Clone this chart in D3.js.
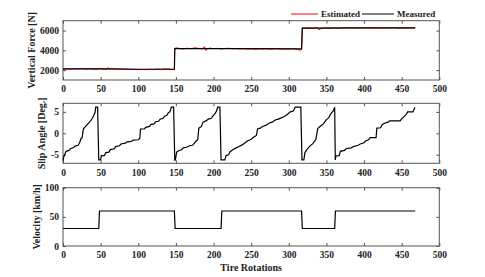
<!DOCTYPE html>
<html>
<head>
<meta charset="utf-8">
<script src="https://cdn.jsdelivr.net/npm/d3@7"></script>
<style>
body { margin: 0; background: #fff; }
svg text { font-family: "Liberation Serif", "Times New Roman", serif; font-weight: bold; }
.tick text { font-size: 9.5px; fill: #222; }
.domain { display: none; }
.tick line { stroke: #555; }
.frame { fill: none; stroke: #555; stroke-width: 1; }
.ylab, .xlab { font-size: 10px; fill: #222; }
.leg { font-size: 9px; fill: #222; }
</style>
</head>
<body>
<div id="content"></div>
<script>
// measured vertical force [rotation, N]
const forceMeasured = [[0, 2120], [60, 2130], [100, 2090], [148, 2100], [148.5, 4180], [230, 4170], [317, 4150],
    [318, 6250], [400, 6270], [468, 6270]];

// estimated vertical force [rotation, N]
const forceEstimated = [
    [0, 2080], [5, 2130], [10, 2090], [15, 2150], [20, 2110], [25, 2170], [30, 2100], [35, 2140], [40, 2120],
    [45, 2090], [50, 2160], [55, 2080], [59, 2120], [60, 2260], [61, 2110], [65, 2150], [70, 2100], [75, 2130],
    [80, 2090], [85, 2110], [90, 2060], [95, 2080], [100, 2040], [105, 2070], [110, 2050], [115, 2090],
    [120, 2060], [125, 2110], [130, 2080], [135, 2140], [140, 2120], [145, 2060], [148, 2050],
    [148.5, 4210], [152, 4250], [155, 4180], [160, 4130], [165, 4220], [170, 4160], [175, 4260], [180, 4200],
    [185, 4150], [188, 4360], [190, 3980], [192, 4140], [195, 4230], [200, 4170], [205, 4200], [210, 4140],
    [215, 4190], [220, 4210], [225, 4150], [230, 4180], [235, 4130], [240, 4170], [245, 4120], [250, 4150],
    [255, 4110], [260, 4160], [265, 4130], [270, 4170], [275, 4120], [280, 4150], [285, 4180], [290, 4120],
    [295, 4160], [300, 4130], [305, 4170], [310, 4120], [315, 4020], [317, 4100],
    [318, 6260], [322, 6240], [326, 6280], [330, 6230], [335, 6260], [338, 6300], [340, 6080], [343, 6220],
    [348, 6260], [355, 6230], [360, 6270], [365, 6240], [370, 6280], [375, 6250], [380, 6290], [385, 6250],
    [390, 6270], [395, 6240], [400, 6280], [405, 6250], [410, 6270], [415, 6230], [420, 6260], [425, 6240],
    [430, 6270], [435, 6250], [440, 6280], [445, 6240], [450, 6260], [455, 6230], [460, 6270], [465, 6250], [468, 6260]
];

// slip angle [rotation, deg]
const slipAngle = [
    [0, -6.4], [1, -5.5], [4, -4.2], [8, -4.0], [10, -3.6], [14, -3.3], [16, -3.0], [20, -2.8], [22, -2.2],
    [24, -1.2], [25.5, -1.0], [27, 1.0], [30, 1.6], [33, 2.2], [36, 2.8], [39, 3.5], [41, 4.2], [42.5, 4.8],
    [43.5, 6.1], [46, 6.1], [47.5, -6.2],
    [50, -6.2], [51, -5.2], [55, -5.2], [57, -4.5], [61, -4.4], [63, -3.8], [68, -3.6], [70, -3.1], [75, -2.9],
    [77, -2.5], [83, -2.3], [85, -2.0], [91, -1.9], [93, -1.6], [100, -1.5], [102, -1.2], [103, 1.0], [108, 1.0],
    [110, 1.4], [115, 1.6], [117, 2.1], [121, 2.2], [123, 2.7], [127, 2.8], [129, 3.3], [133, 3.5], [135, 4.0],
    [138, 4.2], [140, 4.8], [142, 5.0], [144, 6.1], [147, 6.1], [148.5, -6.4],
    [149.5, -6.0], [151, -4.4], [154, -4.0], [157, -3.9], [160, -3.4], [165, -3.2], [168, -2.9], [172, -2.8],
    [174, -2.4], [177, -1.8], [179, -1.5], [180.5, 1.2], [184, 1.6], [186, 2.6], [190, 2.9], [193, 3.3],
    [197, 3.5], [199, 4.0], [202, 4.6], [204, 5.2], [205.5, 6.1], [208.5, 6.1], [210, -6.2],
    [215, -6.2], [216.6, -5.2], [220, -5.0], [222, -4.3], [226, -3.8], [230, -3.4], [234, -3.1], [238, -2.7],
    [242, -2.2], [245, -1.8], [250, -1.4], [254, -0.8], [257, -0.5], [258.5, 1.0], [262, 1.2], [265, 1.6],
    [270, 1.9], [274, 2.4], [278, 2.6], [282, 3.1], [286, 3.3], [290, 3.6], [294, 3.9], [298, 4.4], [302, 5.0],
    [306, 5.2], [308.5, 6.1], [316, 6.1], [317.5, -6.2],
    [320, -6.2], [321.5, -4.5], [324, -3.8], [328, -3.0], [332, -2.4], [336, -1.4], [338.5, 1.1], [343, 1.8],
    [346, 2.2], [350, 3.2], [353, 3.6], [356, 4.6], [359, 5.2], [361, 6.1], [361.8, -6.2],
    [362.7, -5.3], [367, -5.2], [368.5, -4.2], [374, -4.0], [376, -3.6], [383, -3.4], [386, -3.1], [392, -2.8],
    [395, -2.5], [400, -2.2], [402, -1.8], [406, -1.5], [408, -1.0], [416, -1.0], [417, 1.2], [422, 1.3],
    [424, 2.0], [428, 2.4], [432, 2.6], [434, 2.9], [448, 2.9], [450, 3.4], [454, 4.0], [456, 4.4], [458, 5.0],
    [465, 5.0], [467.7, 6.1]
];

// velocity [rotation, km/h]
const velocity = [[0, 30], [47.5, 30], [48.5, 60], [148, 60], [149, 30], [210, 30], [211, 60], [317, 60],
    [318, 30], [361, 30], [362, 60], [468, 60]];

const xTicks = [0, 50, 100, 150, 200, 250, 300, 350, 400, 450, 500];

var left = 63, right = 439.3;

var svg = d3.select('#content')
.append('svg')
.attr('width', 485)
.attr('height', 277);

var x = d3.scaleLinear().domain([0, 500]).range([left, right]);

function panel(top, bottom, domain, yTicks, label, labelX) {
    var y = d3.scaleLinear().domain(domain).range([bottom, top]);

    svg.append('g')
    .attr('transform', 'translate(0,' + bottom + ')')
    .call(d3.axisBottom(x).tickValues(xTicks).tickSize(-3).tickPadding(5.5).tickFormat(d3.format('d')));
    svg.append('g')
    .attr('transform', 'translate(0,' + top + ')')
    .call(d3.axisTop(x).tickValues(xTicks).tickSize(-3).tickFormat(''));
    svg.append('g')
    .attr('transform', 'translate(' + left + ',0)')
    .call(d3.axisLeft(y).tickValues(yTicks).tickSize(-3).tickPadding(4).tickFormat(d => String(d)));
    svg.append('g')
    .attr('transform', 'translate(' + right + ',0)')
    .call(d3.axisRight(y).tickValues(yTicks).tickSize(-3).tickFormat(''));

    svg.append('rect')
    .attr('class', 'frame')
    .attr('x', left)
    .attr('y', top)
    .attr('width', right - left)
    .attr('height', bottom - top);

    svg.append('text')
    .attr('class', 'ylab')
    .attr('text-anchor', 'middle')
    .attr('transform', 'translate(' + labelX + ',' + (top + bottom) / 2 + ') rotate(-90)')
    .text(label);

    return y;
}

function drawLine(data, y, color, width) {
    svg.append('path')
    .datum(data)
    .attr('fill', 'none')
    .attr('stroke', color)
    .attr('stroke-width', width)
    .attr('d', d3.line().x(d => x(d[0])).y(d => y(d[1])));
}

var y1 = panel(20.7, 80, [1000, 7000], [2000, 4000, 6000], 'Vertical Force [N]', 35);
drawLine(forceEstimated, y1, '#ff0000', 1);
drawLine(forceMeasured, y1, '#000', 1.2);

var y2 = panel(103.3, 163.3, [-7, 7], [-5, 0, 5], 'Slip Angle [Deg.]', 45);
drawLine(slipAngle, y2, '#000', 1.2);

var y3 = panel(187.7, 246, [0, 100], [0, 50, 100], 'Velocity [km/h]', 40);
drawLine(velocity, y3, '#000', 1.2);

svg.append('text')
.attr('class', 'xlab')
.attr('text-anchor', 'middle')
.attr('x', (left + right) / 2)
.attr('y', 271)
.text('Tire Rotations');

// legend
var legend = [['Estimated', '#ff0000', 291, 318, 321], ['Measured', '#000', 362, 394, 397]];
legend.forEach(function (l) {
    svg.append('line')
    .attr('x1', l[2]).attr('x2', l[3])
    .attr('y1', 14).attr('y2', 14)
    .attr('stroke', l[1])
    .attr('stroke-width', 1);
    svg.append('text')
    .attr('class', 'leg')
    .attr('x', l[4])
    .attr('y', 17.3)
    .text(l[0]);
});
</script>
</body>
</html>
